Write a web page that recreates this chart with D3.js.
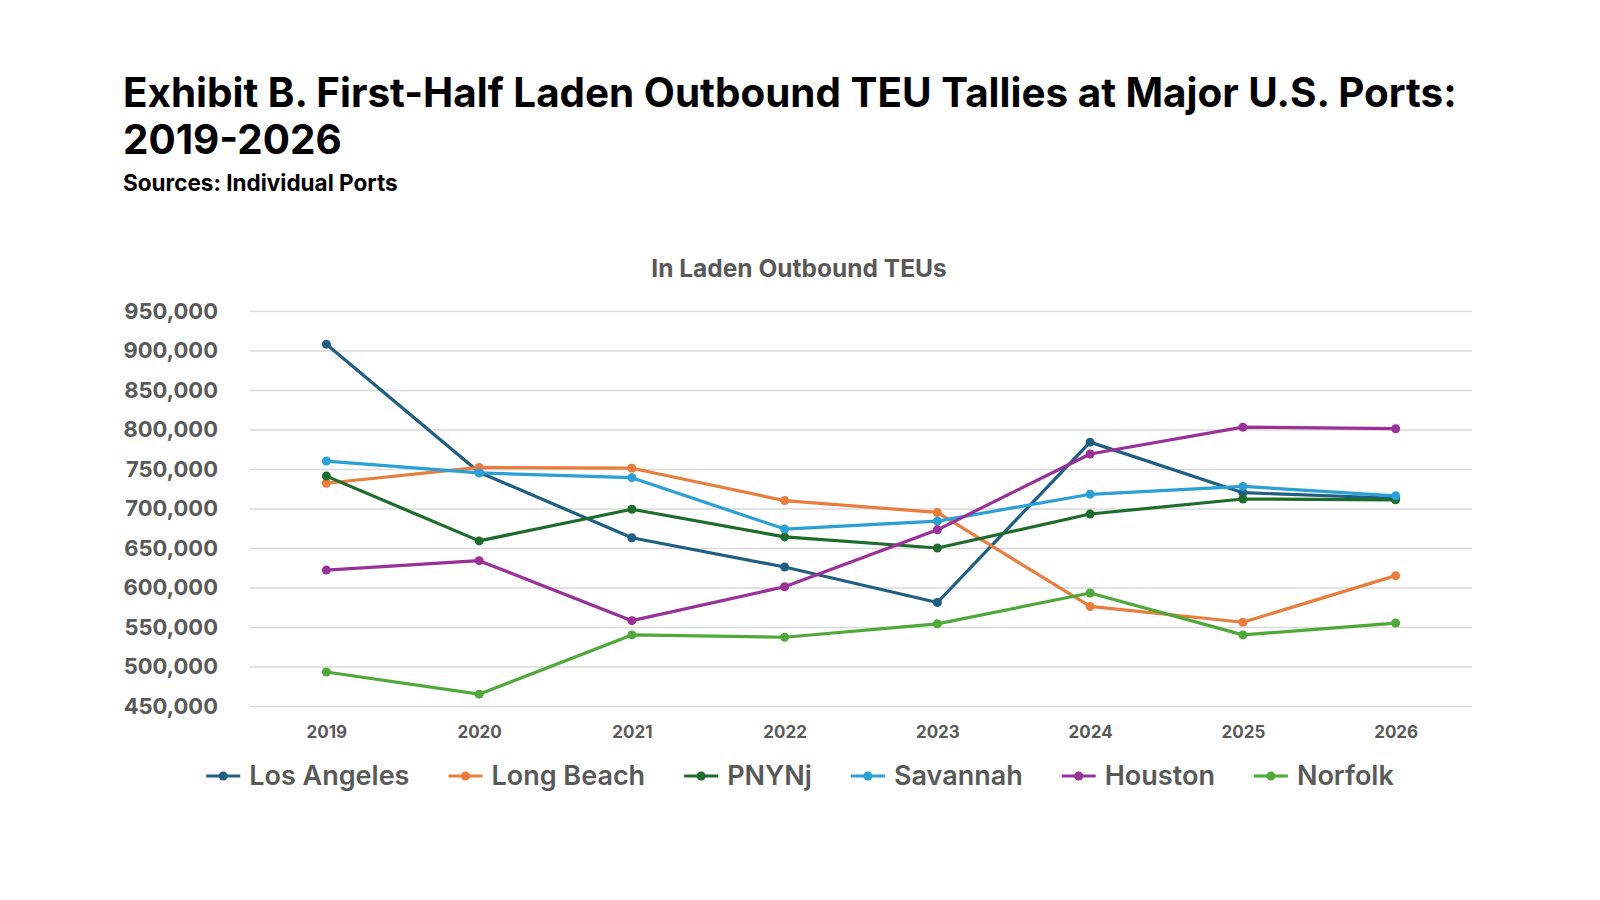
<!DOCTYPE html>
<html>
<head>
<meta charset="utf-8">
<script src="https://cdn.jsdelivr.net/npm/d3@7"></script>
<style>
  body { margin: 0; background: #fff; }
  text { font-family: Inter, Roboto, sans-serif; }
</style>
</head>
<body>
<svg></svg>
<script>
// DATA
let years = ['2019', '2020', '2021', '2022', '2023', '2024', '2025', '2026']
let ports = ['Los Angeles', 'Long Beach', 'PNYNj', 'Savannah', 'Houston', 'Norfolk']

let losAngeles = [908000, 746000, 663000, 626000, 581000, 784000, 720000, 713000]
let longBeach  = [732000, 752000, 751000, 710000, 695000, 576000, 556000, 615000]
let pnynj      = [741000, 659000, 699000, 664000, 650000, 693000, 712000, 711000]
let savannah   = [760000, 745000, 739000, 674000, 684000, 718000, 728000, 716000]
let houston    = [622000, 634000, 558000, 601000, 673000, 769000, 803000, 801000]
let norfolk    = [493000, 465000, 540000, 537000, 554000, 593000, 540000, 555000]

let yTicks = [450000, 500000, 550000, 600000, 650000, 700000, 750000, 800000, 850000, 900000, 950000]

let colors = ['#1f5f84', '#e97d3e', '#1d6c2b', '#2aa0d6', '#993199', '#4fa83a']

let seriesValues = [losAngeles, longBeach, pnynj, savannah, houston, norfolk]

let svgWidth = 1600
let svgHeight = 900

// THE CONTAINER
let svg = d3.select('svg')
  .attr('width', svgWidth)
  .attr('height', svgHeight)

svg.append('rect')
  .attr('width', svgWidth)
  .attr('height', svgHeight)
  .attr('fill', '#fff')

// TITLES
svg.append('text')
  .attr('x', 123).attr('y', 107)
  .attr('font-size', 40.4).attr('font-weight', 700)
  .attr('fill', '#000')
  .text('Exhibit B. First-Half Laden Outbound TEU Tallies at Major U.S. Ports:')

svg.append('text')
  .attr('x', 123).attr('y', 154)
  .attr('font-size', 40.4).attr('font-weight', 700)
  .attr('fill', '#000')
  .text('2019-2026')

svg.append('text')
  .attr('x', 123).attr('y', 191)
  .attr('font-size', 22.5).attr('font-weight', 700)
  .attr('fill', '#000')
  .text('Sources: Individual Ports')

svg.append('text')
  .attr('x', 799).attr('y', 277)
  .attr('text-anchor', 'middle')
  .attr('font-size', 24.5).attr('font-weight', 700)
  .attr('fill', '#595959')
  .text('In Laden Outbound TEUs')

// SCALE
let plotLeft = 250
let plotRight = 1472
let plotTop = 311
let plotBottom = 706

let xScale = d3.scalePoint()
  .domain(years)
  .range([plotLeft, plotRight])
  .padding(0.5)

let yScale = d3.scaleLinear()
  .domain([450000, 950000])
  .range([plotBottom, plotTop])

// AXES
let yAxis = d3.axisLeft(yScale)
  .tickValues(yTicks)
  .tickFormat(d3.format(','))
  .tickSizeInner(-(plotRight - plotLeft))
  .tickSizeOuter(0)
  .tickPadding(32)

let yG = svg.append('g')
  .attr('transform', `translate(${plotLeft}, 0)`)
  .call(yAxis)
yG.select('.domain').remove()
yG.selectAll('line').attr('stroke', '#d9d9d9').attr('stroke-width', 1.3)
yG.selectAll('text')
  .attr('font-size', 22).attr('font-weight', 700)
  .attr('fill', '#595959')
  .attr('font-family', 'Inter, sans-serif')

let xAxis = d3.axisBottom(xScale)
  .tickSize(0)
  .tickPadding(20)

let xG = svg.append('g')
  .attr('transform', `translate(0, ${plotBottom})`)
  .call(xAxis)
xG.select('.domain').remove()
xG.selectAll('text')
  .attr('font-size', 17).attr('font-weight', 700)
  .attr('fill', '#595959')
  .attr('font-family', 'Inter, sans-serif')

// LINES & MARKERS
let line = d3.line()
  .x((d, i) => xScale(years[i]))
  .y(d => yScale(d))

let seriesG = svg.selectAll('.series')
  .data(seriesValues)
  .enter()
  .append('g')
  .attr('class', 'series')

seriesG.append('path')
  .attr('d', d => line(d))
  .attr('fill', 'none')
  .attr('stroke', (d, i) => colors[i])
  .attr('stroke-width', 3.2)
  .attr('stroke-linejoin', 'round')

seriesG.each(function (vals, si) {
  d3.select(this).selectAll('circle')
    .data(vals)
    .enter()
    .append('circle')
    .attr('cx', (d, i) => xScale(years[i]))
    .attr('cy', d => yScale(d))
    .attr('r', 4.5)
    .attr('fill', colors[si])
})

// LEGEND
let legend = svg.append('g')
let legendX = 0
let legendGap = 39
ports.forEach((name, i) => {
  let item = legend.append('g').attr('transform', `translate(${legendX}, 0)`)
  item.append('line')
    .attr('x1', 0).attr('x2', 34)
    .attr('y1', -9).attr('y2', -9)
    .attr('stroke', colors[i]).attr('stroke-width', 3.2)
  item.append('circle')
    .attr('cx', 17).attr('cy', -9).attr('r', 4.5)
    .attr('fill', colors[i])
  let t = item.append('text')
    .attr('x', 43).attr('y', 0)
    .attr('font-size', 27).attr('font-weight', 600)
    .attr('fill', '#595959')
    .text(name)
  legendX += 43 + t.node().getComputedTextLength() + legendGap
})
legendX -= legendGap
legend.attr('transform', `translate(${800 - legendX / 2}, 785)`)
</script>
</body>
</html>
